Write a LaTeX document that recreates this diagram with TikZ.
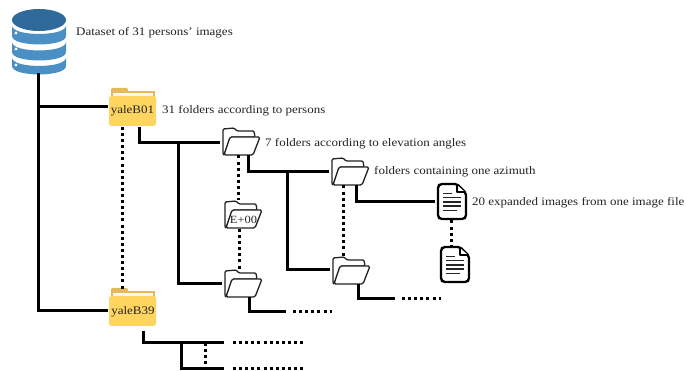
\documentclass[tikz,border=0pt]{standalone}
\usepackage{fontspec}
\setmainfont[FakeStretch=1.13]{Liberation Serif}
\usetikzlibrary{calc}
\definecolor{dbdark}{HTML}{2F6A9B}
\definecolor{dbblue}{HTML}{4A90C4}
\definecolor{fyellow}{HTML}{FFD45F}
\definecolor{ftab}{HTML}{E5B85C}
\definecolor{ink}{HTML}{222222}
\tikzset{
  solidlink/.style={line width=3pt,black,line cap=butt,line join=miter},
  dotlink/.style={line width=3pt,black,dash pattern=on 3pt off 3.1pt},
  caption/.style={inner sep=0pt,anchor=west,text=ink,font=\fontsize{11.5}{13}\selectfont},
  portbox/.style={inner sep=0pt,outer sep=0pt},
  openfolder/.pic={
    \draw[ink,line width=1.3pt,line join=round,fill=white,rounded corners=1.2pt]
      (1,27) -- (0,26) -- (0,1) -- (11,0) -- (14,3) -- (31,3) -- (32,9) -- (8,9) -- cycle;
    \draw[ink,line width=1.3pt,line join=round,fill=white,rounded corners=1.5pt]
      (1,27) -- (7,9) -- (37,9) -- (30,27) -- cycle;
  },
  docicon/.pic={
    \draw[black,line width=2.3pt,line join=round,fill=white,rounded corners=2pt]
      (0,2) -- (0,33) -- (2,35) -- (26,35) -- (28,33) -- (28,9) -- (19,0) -- (2,0) -- cycle;
    \draw[black,line width=1.2pt,fill=white,line join=round] (19,1) -- (19,8) -- (27,8);
    \foreach \yy/\xa/\xb in {9.5/5/14,13.5/5/23,18/5/23,22/5/23,26.5/5/19}
      \draw[black!85,line width=1.9pt] (\xa,\yy) -- (\xb,\yy);
  },
  yellowfolder/.pic={
    \fill[ftab,rounded corners=1.5pt] (2,0) -- (2,10) -- (19,10) -- (19,0) -- cycle;
    \fill[ftab] (2,3.5) rectangle (46,9);
    \fill[white!90!ftab] (4,5) rectangle (44,9);
    \fill[fyellow,rounded corners=2.5pt] (0,8) -- (47,8) -- (47,38) -- (0,38) -- cycle;
  }
}
\newcommand{\dblayer}[2]{%
  \fill[dbblue] (12,#1) .. controls (12,#1+11.3) and (66,#1+11.3) .. (66,#1)
    -- (66,#2) .. controls (66,#2+11.3) and (12,#2+11.3) .. (12,#2) -- cycle;}
\begin{document}
\begin{tikzpicture}[x=1pt,y=-1pt]
\useasboundingbox (0,0) rectangle (686,371);
% database
\dblayer{25.5}{36}
\dblayer{42}{52}
\dblayer{57.5}{66}
\fill[dbdark] (39,20) ellipse[x radius=27,y radius=11];
\foreach \yy in {33,49,65} \fill[white] (16,\yy) circle[radius=1.7];
\node[portbox,minimum width=54pt,minimum height=65pt] (db) at (38,41) {};
% yellow folders
\path (109,88) pic {yellowfolder};
\path (109,288) pic {yellowfolder};
\node[portbox,minimum width=50pt,minimum height=40pt] (y01) at (133,107) {};
\node[portbox,minimum width=50pt,minimum height=40pt] (y39) at (133,311) {};
\node[portbox,text=ink,font=\fontsize{11.5}{13}\selectfont] (t01) at (132.5,111) {yaleB01};
\node[portbox,text=ink,font=\fontsize{11.5}{13}\selectfont] (t39) at (133,312) {yaleB39};
% open folders
\path (223,128) pic {openfolder};
\path (332,158) pic {openfolder};
\path (225,201) pic {openfolder};
\path (225,270) pic {openfolder};
\path (333,257) pic {openfolder};
\node[portbox,minimum width=43pt,minimum height=25pt] (f1) at (241.5,143) {};
\node[portbox,minimum width=43pt,minimum height=27pt] (f2) at (350.5,172) {};
\node[portbox,minimum width=43pt,minimum height=29pt] (f3) at (243.5,214.5) {};
\node[portbox,minimum width=43pt,minimum height=26pt] (f4) at (243.5,284) {};
\node[portbox,minimum width=43pt,minimum height=28pt] (f5) at (351.5,270) {};
\node[portbox,text=ink,font=\fontsize{11}{12}\selectfont] (e00) at (243.5,219.5) {E+00};
% documents
\path (438,184) pic {docicon};
\path (441,247) pic {docicon};
\node[portbox,minimum width=34pt,minimum height=37pt] (d1) at (452,202) {};
\node[portbox,minimum width=34pt,minimum height=39pt] (d2) at (455,264.5) {};
% free ends
\coordinate (e1) at (286,312);
\coordinate (e1d) at (332,312);
\coordinate (e2) at (395,299);
\coordinate (e2d) at (441,299);
\coordinate (e3) at (224,343);
\coordinate (e3d) at (303,343);
\coordinate (e4) at (224,369);
\coordinate (e4d) at (303,369);
\coordinate (j1) at (178,0 |- f1.west);
\coordinate (j2) at (287,0 |- f2.west);
\coordinate (j3) at (181,343);
\coordinate (j4) at (205,343);
\coordinate (j5) at (205,369);
\coordinate (t0) at (db.south |- y01.west);
% solid connectors
\draw[solidlink] (db.south) |- (y39.west);
\draw[solidlink] (t0) -- (y01.west);
\draw[solidlink] ([xshift=6.5pt]y01.south) |- (f1.west);
\draw[solidlink] (j1) |- (f4.west);
\draw[solidlink] ([xshift=7pt]f1.south) |- (f2.west);
\draw[solidlink] (j2) |- (f5.west);
\draw[solidlink] ([xshift=5.5pt]f2.south) |- (d1.west);
\draw[solidlink] ([xshift=5.5pt]f4.south) |- (e1);
\draw[solidlink] ([xshift=6.5pt]f5.south) |- (e2);
\draw[solidlink] ([xshift=10pt]y39.south) |- (e3);
\draw[solidlink] (j3) |- (e4);
% dotted connectors
\draw[dotlink] (e1)++(7,0) -- (e1d);
\draw[dotlink] (e2)++(7,0) -- (e2d);
\draw[dotlink] (e3)++(9,0) -- (e3d);
\draw[dotlink] (e4)++(9,0) -- (e4d);
\draw[dotlink] (j4) -- (j5);
\draw[dotlink] ([xshift=-11pt]y01.south) -- ([xshift=-11pt]y39.north);
\draw[dotlink] ([xshift=-3.5pt]f1.south) -- (238,200);
\draw[dotlink] ([xshift=-4.5pt]f3.south) -- ([xshift=-4.5pt]f4.north);
\draw[dotlink] ([xshift=-7.5pt]f2.south) -- ([xshift=-8.5pt]f5.north);
\draw[dotlink] ([xshift=-1pt]d1.south) -- (451,246);
% labels
\node[caption] (c0) at (76,32.5) {Dataset of 31 persons' images};
\node[caption] (c1) at (162,110.5) {31 folders according to persons};
\node[caption] (c2) at (265,143.5) {7 folders according to elevation angles};
\node[caption] (c3) at (374,172) {folders containing one azimuth};
\node[caption] (c4) at (472,202.5) {20 expanded images from one image file};
\end{tikzpicture}
\end{document}
